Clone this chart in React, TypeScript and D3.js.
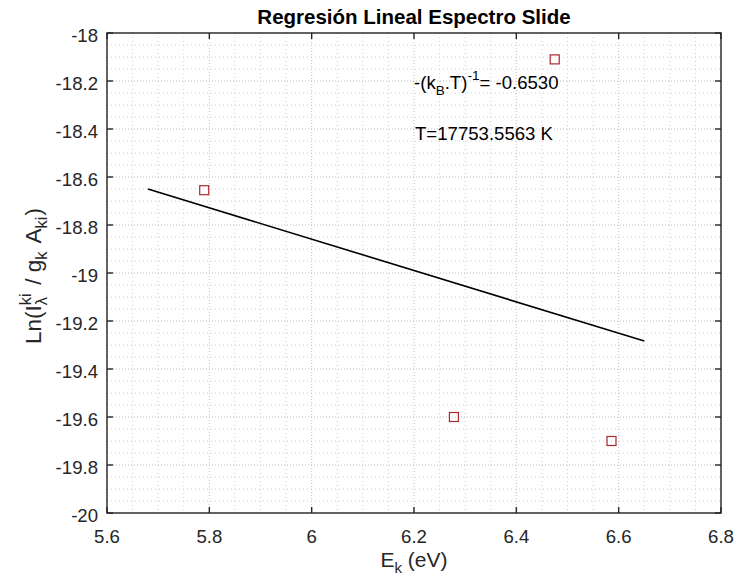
import React from "react";
import * as d3 from "d3";

// Measured points: upper-level energy vs ln(I / g A)
const energies = [5.79, 6.278, 6.475, 6.586];
const lnValues = [-18.655, -19.6, -18.11, -19.7];

// Linear fit: slope = -(kB T)^-1
const slope = -0.653;
const intercept = -14.941;
const fitRange = [5.68, 6.65];

const xTicks = [5.6, 5.8, 6, 6.2, 6.4, 6.6, 6.8];
const yTicks = [-20, -19.8, -19.6, -19.4, -19.2, -19, -18.8, -18.6, -18.4, -18.2, -18];

const W = 738;
const H = 582;
const L = 107;
const R = 721;
const T = 33;
const B = 513;

const FONT = "'Liberation Sans', Arial, Helvetica, sans-serif";
const AXIS = "#262626";

export default function App() {
  const x = d3.scaleLinear().domain([5.6, 6.8]).range([L, R]);
  const y = d3.scaleLinear().domain([-20, -18]).range([B, T]);

  const minorX = d3.range(5.6, 6.8001, 0.05).filter((v) => Math.abs(v * 5 - Math.round(v * 5)) > 1e-6);
  const minorY = d3.range(-20, -17.9999, 0.05).filter((v) => Math.abs(v * 5 - Math.round(v * 5)) > 1e-6);

  const fmt = (v: number) => String(+v.toFixed(1));
  const fitLine = d3
    .line<number>()
    .x((d) => x(d))
    .y((d) => y(slope * d + intercept));

  const tick = 6;

  return (
    <svg
      width={W}
      height={H}
      style={{ position: "absolute", left: 0, top: 0, background: "#fff" }}
      fontFamily={FONT}
    >
      <rect x={0} y={0} width={W} height={H} fill="#fff" />
      {/* minor grid */}
      <g stroke="#c4c4c4" strokeWidth={0.8} strokeDasharray="1,3">
        {minorX.map((v) => (
          <line key={"mx" + v} x1={x(v)} x2={x(v)} y1={T} y2={B} />
        ))}
        {minorY.map((v) => (
          <line key={"my" + v} x1={L} x2={R} y1={y(v)} y2={y(v)} />
        ))}
      </g>
      {/* major grid */}
      <g stroke="#b0b0b0" strokeWidth={0.8} strokeDasharray="1,2">
        {xTicks.map((v) => (
          <line key={"gx" + v} x1={x(v)} x2={x(v)} y1={T} y2={B} />
        ))}
        {yTicks.map((v) => (
          <line key={"gy" + v} x1={L} x2={R} y1={y(v)} y2={y(v)} />
        ))}
      </g>

      {/* fit line */}
      <path d={fitLine(fitRange) || ""} fill="none" stroke="#000" strokeWidth={1.6} />

      {/* data markers */}
      {energies.map((e, i) => (
        <rect
          key={"p" + i}
          x={x(e) - 4.5}
          y={y(lnValues[i]) - 4.5}
          width={9}
          height={9}
          fill="none"
          stroke="#a8282e"
          strokeWidth={1.2}
        />
      ))}

      {/* axes box and ticks */}
      <rect x={L} y={T} width={R - L} height={B - T} fill="none" stroke={AXIS} strokeWidth={1.4} />
      <g stroke={AXIS} strokeWidth={1.4}>
        {xTicks.map((v) => (
          <g key={"tx" + v}>
            <line x1={x(v)} x2={x(v)} y1={B} y2={B - tick} />
            <line x1={x(v)} x2={x(v)} y1={T} y2={T + tick} />
          </g>
        ))}
        {yTicks.map((v) => (
          <g key={"ty" + v}>
            <line x1={L} x2={L + tick} y1={y(v)} y2={y(v)} />
            <line x1={R} x2={R - tick} y1={y(v)} y2={y(v)} />
          </g>
        ))}
      </g>

      {/* tick labels */}
      <g fill={AXIS} fontSize={18.6}>
        {xTicks.map((v) => (
          <text key={"lx" + v} x={x(v)} y={B + 30} textAnchor="middle">
            {fmt(v)}
          </text>
        ))}
        {yTicks.map((v) => (
          <text key={"ly" + v} x={L - 9} y={y(v) + 9} textAnchor="end">
            {fmt(v)}
          </text>
        ))}
      </g>

      {/* title */}
      <text x={(L + R) / 2} y={24} textAnchor="middle" fontSize={20.5} fontWeight="bold" fill="#000">
        Regresión Lineal Espectro Slide
      </text>

      {/* x label */}
      <text x={(L + R) / 2} y={567} textAnchor="middle" fontSize={21} fill={AXIS}>
        E<tspan fontSize={15} dy={6}>k</tspan>
        <tspan dy={-6}> (eV)</tspan>
      </text>

      {/* y label */}
      <text
        transform={`translate(41, 276) rotate(-90)`}
        textAnchor="middle"
        fontSize={22.5}
        fill={AXIS}
      >
        Ln(I<tspan fontSize={16.5} dy={-10}>ki</tspan>
        <tspan fontSize={16.5} dx={-11.9} dy={16}>λ</tspan>
        <tspan dx={6} dy={-6}> / g</tspan>
        <tspan fontSize={16.5} dy={6}>k</tspan>
        <tspan dx={3} dy={-6}> A</tspan>
        <tspan fontSize={16.5} dy={6}>ki</tspan>
        <tspan dx={1} dy={-6}>)</tspan>
      </text>

      {/* annotations */}
      <text x={414} y={89} fontSize={18.6} fill="#000">
        -(k<tspan fontSize={13.5} dy={6}>B</tspan>
        <tspan dy={-6}>.T)</tspan>
        <tspan fontSize={13.5} dy={-9}>-1</tspan>
        <tspan dy={9}>= -0.6530</tspan>
      </text>
      <text x={415} y={140} fontSize={18.6} fill="#000">
        T=17753.5563 K
      </text>
    </svg>
  );
}
